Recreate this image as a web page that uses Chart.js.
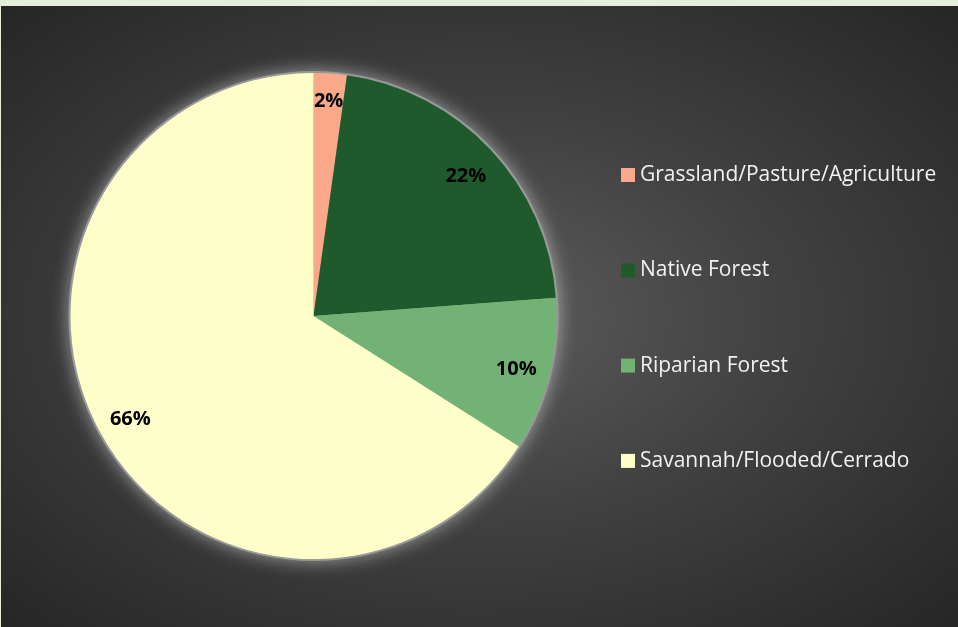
<!DOCTYPE html>
<html>
<head>
<meta charset="utf-8">
<script src="https://cdn.jsdelivr.net/npm/chart.js@4"></script>
<style>
  html, body { margin: 0; padding: 0; }
  body { width: 958px; height: 627px; overflow: hidden; background: #e2efda; }
  #wrap {
    position: absolute; left: 1px; top: 6px; width: 957px; height: 621px;
    background: radial-gradient(ellipse farthest-corner at 50% 50%, #5c5c5c 0%, #414141 45%, #262626 100%);
  }
</style>
</head>
<body>
<div id="wrap"><canvas id="myChart" width="957" height="621"></canvas></div>
<script>
// land cover shares (percent)
var categories = ["Grassland/Pasture/Agriculture", "Native Forest", "Riparian Forest", "Savannah/Flooded/Cerrado"];
var shares = [2.2, 21.6, 10.2, 66.0];
var shareLabels = ["2%", "22%", "10%", "66%"];
var sliceColors = ["#f9a98a", "#1f5a2c", "#72b274", "#ffffc9"];

// soft white glow behind the pie
var glowPlugin = {
  id: "glow",
  beforeDatasetsDraw: function (chart) {
    var arc = chart.getDatasetMeta(0).data[0];
    if (!arc) return;
    var ctx = chart.ctx;
    ctx.save();
    ctx.shadowColor = "rgba(255,255,255,0.5)";
    ctx.shadowBlur = 18;
    ctx.fillStyle = "#999";
    ctx.beginPath();
    ctx.arc(arc.x, arc.y, arc.outerRadius + 2, 0, Math.PI * 2);
    ctx.fill();
    ctx.restore();
  }
};

// percent labels inside the slices
var labelPlugin = {
  id: "sliceLabels",
  afterDatasetsDraw: function (chart) {
    var ctx = chart.ctx;
    var meta = chart.getDatasetMeta(0);
    ctx.save();
    ctx.font = "bold 20px 'Open Sans'";
    ctx.fillStyle = "#000";
    ctx.textAlign = "center";
    ctx.textBaseline = "middle";
    meta.data.forEach(function (arc, i) {
      var mid = (arc.startAngle + arc.endAngle) / 2;
      var r = arc.outerRadius * (i === 0 ? 0.9 : 0.86);
      ctx.fillText(shareLabels[i], arc.x + Math.cos(mid) * r, arc.y + Math.sin(mid) * r + 3);
    });
    ctx.restore();
  }
};

// legend on the right, drawn by hand so the spacing matches
var legendPlugin = {
  id: "sideLegend",
  afterDraw: function (chart) {
    var ctx = chart.ctx;
    ctx.save();
    ctx.font = "21px 'Open Sans'";
    ctx.textBaseline = "middle";
    for (var i = 0; i < categories.length; i++) {
      var y = 169 + i * 95.3;
      ctx.fillStyle = sliceColors[i];
      ctx.fillRect(620, y - 7, 14, 14);
      ctx.fillStyle = "#f2f2f2";
      ctx.fillText(categories[i], 639, y);
    }
    ctx.restore();
  }
};

new Chart(document.getElementById("myChart").getContext("2d"), {
  type: "pie",
  data: {
    labels: categories,
    datasets: [{
      data: shares,
      backgroundColor: sliceColors,
      borderWidth: 0
    }]
  },
  options: {
    responsive: false,
    animation: false,
    layout: { padding: { left: 69, top: 67, right: 401, bottom: 68 } },
    plugins: {
      legend: { display: false },
      tooltip: { enabled: false }
    }
  },
  plugins: [glowPlugin, labelPlugin, legendPlugin]
});
</script>
</body>
</html>
